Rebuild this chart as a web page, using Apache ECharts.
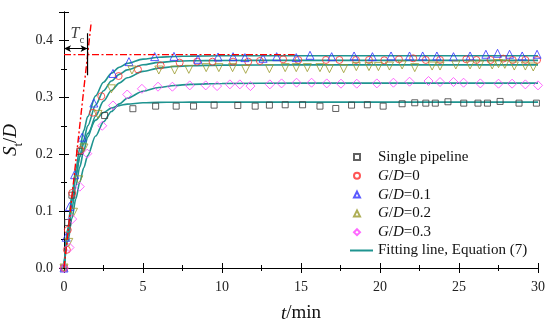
<!DOCTYPE html>
<html>
<head>
<meta charset="utf-8">
<script src="https://cdn.jsdelivr.net/npm/echarts@6/dist/echarts.min.js"></script>
<style>html,body{margin:0;padding:0;background:#fff;}#c{width:550px;height:325px;}</style>
</head>
<body>
<div id="c"></div>
<script>
// ---- data ----
const xTicks = [0, 5, 10, 15, 20, 25, 30];
const yTicks = [0.0, 0.1, 0.2, 0.3, 0.4];

const singlePipeline = [[0,0],[0.24,0.08],[0.5,0.128],[1.0,0.205],[2.57,0.268],[4.36,0.28],[5.8,0.2845],[7.1,0.2845],
  [8.2,0.2845],[9.5,0.2863],[11.0,0.2857],[12.1,0.2845],[13.0,0.2863],[14.0,0.2869],[15.1,0.2869],[16.2,0.2845],
  [17.2,0.2804],[18.2,0.2863],[19.2,0.2869],[20.2,0.2845],[21.4,0.2887],[22.2,0.2904],[22.9,0.2898],[23.5,0.2898],
  [24.3,0.2922],[25.3,0.2898],[26.2,0.2898],[26.8,0.2898],[27.6,0.2928],[28.8,0.2898],[29.9,0.2898]];
const gd0 = [[0,0],[0.18,0.032],[0.24,0.067],[0.52,0.132],[1.05,0.207],[1.83,0.273],[2.36,0.302],[3.46,0.3375],
  [4.68,0.349],[6.12,0.356],[7.32,0.361],[8.42,0.3627],[9.4,0.3627],[10.7,0.3627],[11.66,0.3627],[12.4,0.3639],
  [13.87,0.3668],[14.83,0.3657],[16.58,0.3657],[17.43,0.3657],[18.48,0.3657],[19.3,0.3657],[20.27,0.3651],
  [21.2,0.3668],[22.1,0.3686],[22.9,0.3657],[23.8,0.3657],[25.46,0.3668],[26.1,0.3657],[27.0,0.3657],
  [27.8,0.368],[28.4,0.3657],[29.2,0.3657],[29.94,0.3657]];
const gd01 = [[0,0],[0.14,0.054],[0.35,0.108],[0.67,0.164],[1.15,0.23],[1.89,0.29],[3.1,0.342],[4.11,0.3628],
  [5.74,0.3716],[6.96,0.372],[8.48,0.3668],[9.75,0.3709],[10.7,0.3715],[11.45,0.3698],[12.6,0.3686],[13.46,0.3715],
  [14.7,0.3698],[15.57,0.3739],[16.94,0.3715],[18.36,0.3727],[19.52,0.3715],[20.7,0.3727],[21.87,0.3727],
  [22.7,0.3727],[23.6,0.3727],[24.65,0.3715],[25.7,0.3727],[26.7,0.3757],[27.44,0.3774],[28.2,0.3757],
  [29.0,0.3727],[29.94,0.3757]];
const gd02 = [[0,0],[0.3,0.045],[0.6,0.098],[0.94,0.155],[1.26,0.211],[2.15,0.27],[3.0,0.315],[4.3,0.348],
  [6.0,0.348],[7.0,0.348],[7.9,0.3492],[9.0,0.3522],[9.8,0.3522],[10.67,0.3522],[11.5,0.3492],[13.0,0.3504],
  [14.0,0.3522],[14.7,0.3522],[15.4,0.3522],[16.2,0.3522],[16.8,0.3504],[17.7,0.3504],[18.5,0.354],[19.3,0.354],
  [19.9,0.354],[20.6,0.355],[21.4,0.3569],[22.2,0.3522],[23.3,0.355],[23.8,0.355],[24.8,0.3569],[25.7,0.3569],
  [26.3,0.3569],[27.1,0.3569],[27.5,0.3592],[27.9,0.358],[28.5,0.355],[29.2,0.355],[29.7,0.3533]];
const gd03 = [[0,0],[0.35,0.036],[0.52,0.086],[1.0,0.143],[1.47,0.201],[2.42,0.25],[3.1,0.2857],[4.0,0.305],
  [4.93,0.315],[5.95,0.3187],[6.86,0.3187],[7.96,0.321],[8.97,0.321],[9.69,0.3198],[10.5,0.3228],[11.13,0.3228],
  [11.8,0.3198],[13.03,0.3228],[13.77,0.3245],[14.72,0.3257],[15.67,0.3257],[16.63,0.3245],[17.53,0.324],
  [18.53,0.324],[19.8,0.3245],[20.85,0.3257],[21.87,0.3275],[23.07,0.3287],[23.8,0.3269],[24.65,0.3269],
  [25.29,0.3257],[26.35,0.3245],[27.5,0.324],[28.36,0.324],[29.2,0.3228],[30.0,0.321]];

// fitted curves
const fitT = [0,0.25,0.5,0.75,1,1.25,1.5,2,2.5,3,3.5,4,5,6,7,8,10,15,20,25,30];
const fitSingle = [0,0.0707,0.1242,0.1648,0.1955,0.2188,0.2364,0.2599,0.2734,0.2811,0.2855,0.2881,0.2904,0.2911,0.2914,0.2915,0.2915,0.2915,0.2915,0.2915,0.2915];
const fitGd0 = [0,0.0638,0.1166,0.16,0.1959,0.2255,0.2499,0.2866,0.3116,0.3287,0.3403,0.3482,0.3572,0.3614,0.3633,0.3642,0.3648,0.365,0.365,0.365,0.365];
const fitGd01 = [0,0.0701,0.1272,0.1733,0.2109,0.2414,0.2661,0.3025,0.3266,0.3424,0.3528,0.3597,0.3672,0.3705,0.3719,0.3725,0.373,0.373,0.373,0.373,0.373];
const fitGd02 = [0,0.0566,0.1041,0.1442,0.1779,0.2062,0.2301,0.2671,0.2933,0.3119,0.325,0.3344,0.3456,0.3513,0.3541,0.3556,0.3566,0.357,0.357,0.357,0.357];
const fitGd03 = [0,0.047,0.0872,0.1216,0.151,0.1762,0.1977,0.2319,0.2569,0.2751,0.2885,0.2983,0.3107,0.3174,0.3209,0.3228,0.3244,0.325,0.325,0.325,0.325];

// annotation geometry (in data units)
const tangentLine = [[0,0],[1.725,0.4326]];
const plateauLine = [[0,0.375],[14.6,0.375]];
const tcValue = 1.49;
const tcBar = [[tcValue,0.3386],[tcValue,0.4127]];
const tcArrowY = 0.3857;

const seriesNames = ['Single pipeline','G/D=0','G/D=0.1','G/D=0.2','G/D=0.3','Fitting line, Equation (7)'];

const FONT = 'Liberation Serif';
const TEAL = '#1f9490';
const chart = echarts.init(document.getElementById('c'), null, {renderer:'canvas'});

function zip(t, v){ return t.map((x,i)=>[x, v[i]]); }
function scatter(name, data, symbol, size, color, rotate){
  return {type:'scatter', name, data, symbol, symbolSize:size, symbolRotate: rotate||0, z:5,
    itemStyle:{color:'rgba(255,255,255,0)', borderColor:color, borderWidth:1}, silent:true};
}
function fit(v){
  return {type:'line', name:seriesNames[5], data:zip(fitT, v), smooth:0.3, smoothMonotone:'x', symbol:'none',
    lineStyle:{color:TEAL, width:1.6}, itemStyle:{color:TEAL}, z:3, silent:true};
}
const dashDot = [7,2.5,2,2.5];
const legendText = {fontFamily:FONT, fontSize:15, color:'#111', padding:[0,0,0,13], rich:{
  i:{fontFamily:FONT, fontSize:15, fontStyle:'italic', color:'#111'},
  n:{fontFamily:FONT, fontSize:15, color:'#111'}}};

const option = {
  animation:false,
  backgroundColor:'#fff',
  textStyle:{fontFamily:FONT},
  grid:{left:64, right:12, top:12, bottom:57, outerBoundsMode:'none', containLabel:false},
  legend:[{
    orient:'vertical', left:353, top:149.5, padding:0, itemWidth:6, itemHeight:6, itemGap:3.8,
    data:seriesNames.slice(0,5), selectedMode:false,
    textStyle:legendText,
    formatter:function(name){
      if (name.indexOf('G/D') === 0) return '{i|G}{n|/}{i|D}{n|' + name.slice(3) + '}';
      return name;
    }
  },{
    orient:'vertical', left:350, top:243, padding:0, itemWidth:23, itemHeight:2, itemGap:4,
    data:[{name:seriesNames[5], icon:'rect'}], selectedMode:false,
    textStyle:{fontFamily:FONT, fontSize:15, color:'#111'}
  }],
  xAxis:[{
    type:'value', min:0, max:30, interval:5, position:'bottom',
    axisLine:{lineStyle:{color:'#000', width:1}},
    axisTick:{inside:true, length:5, lineStyle:{color:'#000'}},
    minorTick:{show:true, splitNumber:2, length:3, lineStyle:{color:'#000'}},
    splitLine:{show:false},
    axisLabel:{color:'#222', fontSize:14, fontFamily:FONT, margin:12},
    name:'{i|t}{n|/min}', nameLocation:'middle', nameGap:36,
    nameTextStyle:{rich:{i:{fontFamily:FONT, fontSize:19, fontStyle:'italic', color:'#111'}, n:{fontFamily:FONT, fontSize:19, color:'#111'}}}
  },{
    type:'value', min:0, max:30, interval:5, position:'top',
    axisLine:{lineStyle:{color:'#000', width:1}},
    axisTick:{inside:true, length:5, lineStyle:{color:'#000'}},
    minorTick:{show:true, splitNumber:2, length:3, lineStyle:{color:'#000'}},
    splitLine:{show:false}, axisLabel:{show:false}
  }],
  yAxis:[{
    type:'value', min:0, max:0.45, interval:0.1, position:'left',
    axisLine:{lineStyle:{color:'#000', width:1}},
    axisTick:{inside:true, length:5, lineStyle:{color:'#000'}},
    minorTick:{show:true, splitNumber:2, length:3, lineStyle:{color:'#000'}},
    splitLine:{show:false},
    axisLabel:{color:'#222', fontSize:14, fontFamily:FONT, margin:11, showMaxLabel:false,
      formatter:function(v){ return yTicks.indexOf(Math.round(v*10)/10) >= 0 ? v.toFixed(1) : ''; }},
    name:'{i|S}{s|t}{n|/}{i|D}', nameLocation:'middle', nameGap:40, nameRotate:90,
    nameTextStyle:{rich:{
      i:{fontFamily:FONT, fontSize:19, fontStyle:'italic', color:'#111', lineHeight:22, verticalAlign:'bottom'},
      n:{fontFamily:FONT, fontSize:19, color:'#111', lineHeight:22, verticalAlign:'bottom'},
      s:{fontFamily:FONT, fontSize:13, color:'#111', lineHeight:22, verticalAlign:'bottom', padding:[0,0,-4,0]}}}
  },{
    type:'value', min:0, max:0.45, interval:0.1, position:'right',
    axisLine:{lineStyle:{color:'#000', width:1}},
    axisTick:{inside:true, length:5, lineStyle:{color:'#000'}},
    minorTick:{show:true, splitNumber:2, length:3, lineStyle:{color:'#000'}},
    splitLine:{show:false}, axisLabel:{show:false}
  }],
  series:[
    fit(fitSingle), fit(fitGd0), fit(fitGd01), fit(fitGd02), fit(fitGd03),
    scatter(seriesNames[0], singlePipeline, 'rect', 6, '#3a3a3a'),
    scatter(seriesNames[1], gd0, 'circle', 7, '#ff2a2a'),
    scatter(seriesNames[2], gd01, 'triangle', 8, '#2f2fff'),
    scatter(seriesNames[3], gd02, 'triangle', 8, '#9a9a2a', 180),
    scatter(seriesNames[4], gd03, 'diamond', 9, '#ff44ff'),
    {type:'line', name:'tangent', data:tangentLine, symbol:'none', z:6, silent:true,
      lineStyle:{color:'#ff0000', width:1.4, type:dashDot}},
    {type:'line', name:'plateau', data:plateauLine, symbol:'none', z:6, silent:true,
      lineStyle:{color:'#ff0000', width:1.4, type:dashDot}},
    {type:'line', name:'tcbar', data:tcBar, symbol:'none', z:7, silent:true,
      lineStyle:{color:'#000', width:1.2},
      markLine:{silent:true, symbol:['arrow','arrow'], symbolSize:[5,7], label:{show:false},
        lineStyle:{color:'#000', width:1, type:'solid'},
        data:[[{coord:[0,tcArrowY]},{coord:[tcValue,tcArrowY]}]]}},
    {type:'scatter', name:'tclabel', data:[[0.85,0.414]], symbolSize:0, silent:true, z:8,
      label:{show:true, position:'inside', formatter:'{i|T}{s|c}', rich:{
        i:{fontFamily:FONT, fontSize:16, fontStyle:'italic', color:'#111', lineHeight:18, verticalAlign:'bottom'},
        s:{fontFamily:FONT, fontSize:11, color:'#111', lineHeight:18, verticalAlign:'bottom', padding:[0,0,-4,0]}}}}
  ]
};
chart.setOption(option);
</script>
</body>
</html>
